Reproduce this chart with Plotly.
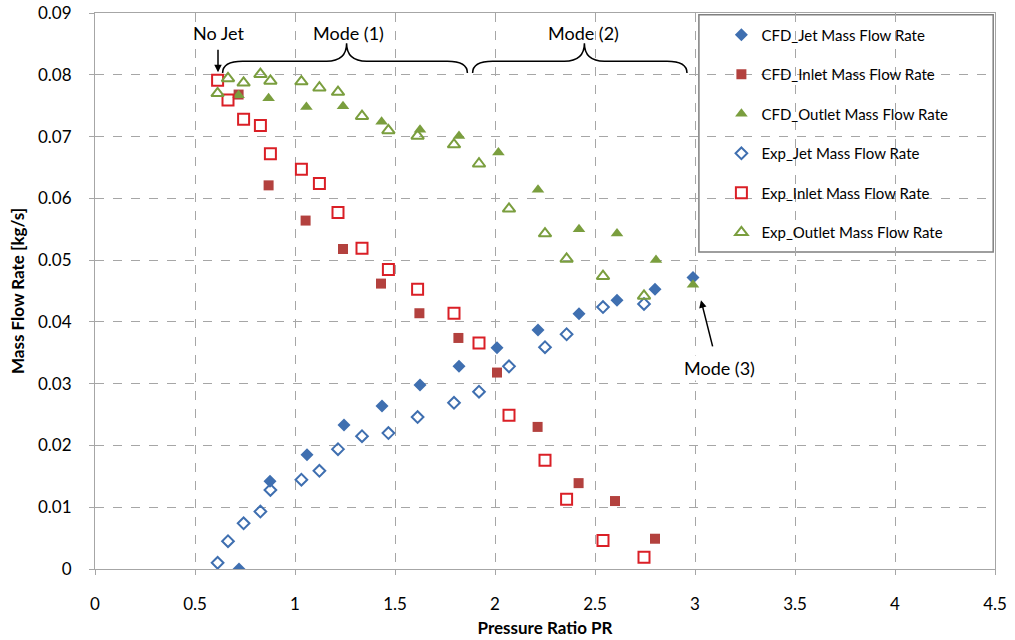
import plotly.graph_objects as go

# CFD results
cfd_jet_pr = [0.72, 0.875, 1.06, 1.245, 1.435, 1.625, 1.82, 2.01, 2.215, 2.42, 2.61, 2.80, 2.99]
cfd_jet_m = [0.0, 0.0142, 0.0185, 0.0233, 0.0264, 0.0298, 0.0328, 0.0358, 0.0387, 0.0413, 0.0435, 0.0453, 0.0472]

cfd_inlet_pr = [0.718, 0.868, 1.053, 1.24, 1.43, 1.622, 1.817, 2.01, 2.213, 2.418, 2.60, 2.80]
cfd_inlet_m = [0.0768, 0.0621, 0.0564, 0.0518, 0.0462, 0.0414, 0.0374, 0.0318, 0.0230, 0.0139, 0.0110, 0.0049]

cfd_outlet_pr = [0.718, 0.868, 1.057, 1.24, 1.433, 1.625, 1.82, 2.017, 2.215, 2.42, 2.61, 2.805, 2.99]
cfd_outlet_m = [0.0767, 0.0762, 0.0748, 0.0749, 0.0724, 0.0711, 0.0701, 0.0674, 0.0614, 0.0550, 0.0543, 0.0500, 0.0460]

# experimental results
exp_pr = [0.613, 0.665, 0.743, 0.827, 0.877, 1.032, 1.122, 1.215, 1.335, 1.467, 1.613, 1.795, 1.92]
exp_pr_hi = [2.07, 2.25, 2.358, 2.54, 2.745]
exp_jet_m = [0.0010, 0.0045, 0.0074, 0.0093, 0.0128, 0.01445, 0.0159, 0.0194, 0.0215, 0.0220, 0.0246, 0.0269, 0.0287,
             0.0328, 0.0359, 0.0380, 0.0424, 0.0429]
exp_inlet_m = [0.0791, 0.0759, 0.0728, 0.0718, 0.0672, 0.0647, 0.0624, 0.0577, 0.0519, 0.0485, 0.0453, 0.0414, 0.0366,
               0.0249, 0.0176, 0.0113, 0.0046, 0.0019]
exp_outlet_m = [0.0770, 0.0794, 0.0787, 0.0801, 0.0790, 0.0789, 0.0779, 0.0772, 0.0733, 0.0710, 0.0701, 0.0687, 0.0656,
                0.0583, 0.0543, 0.0502, 0.0474, 0.0442]

exp_all_pr = exp_pr + exp_pr_hi

FONT = "Lato"
BLUE = "#3F6FB0"
RED_F = "#B3413E"
GREEN = "#7A9E3E"
RED_O = "#DA1F26"

series = [
    ("CFD_Jet Mass Flow Rate", cfd_jet_pr, cfd_jet_m, dict(symbol="diamond", size=10, color=BLUE)),
    ("CFD_Inlet Mass Flow Rate", cfd_inlet_pr, cfd_inlet_m, dict(symbol="square", size=10, color=RED_F)),
    ("CFD_Outlet Mass Flow Rate", cfd_outlet_pr, cfd_outlet_m, dict(symbol="triangle-up", size=11, color=GREEN)),
    ("Exp_Jet Mass Flow Rate", exp_all_pr, exp_jet_m,
     dict(symbol="diamond-open", size=9, color=BLUE, line=dict(width=2, color=BLUE))),
    ("Exp_Inlet Mass Flow Rate", exp_all_pr, exp_inlet_m,
     dict(symbol="square-open", size=11, color=RED_O, line=dict(width=2, color=RED_O))),
    ("Exp_Outlet Mass Flow Rate", exp_all_pr, exp_outlet_m,
     dict(symbol="triangle-up-open", size=11, color=GREEN, line=dict(width=2, color=GREEN))),
]

fig = go.Figure()
for i, (name, xs, ys, mk) in enumerate(series):
    fig.add_trace(go.Scatter(x=xs, y=ys, mode="markers", name=name, marker=mk, legendgroup=str(i)))


def brace(x0, xm, x1, yt, yl, yp, d=0.1):
    return (f"M {x0},{yt} Q {x0},{yl} {x0 + d},{yl} L {xm - d},{yl} Q {xm},{yl} {xm},{yp} "
            f"Q {xm},{yl} {xm + d},{yl} L {x1 - d},{yl} Q {x1},{yl} {x1},{yt}")


shapes = [
    dict(type="path", xref="x", yref="y", path=brace(0.638, 1.258, 1.862, 0.0803, 0.0822, 0.0851),
         line=dict(color="black", width=1.5)),
    dict(type="path", xref="x", yref="y", path=brace(1.888, 2.447, 2.96, 0.0803, 0.0822, 0.0851),
         line=dict(color="black", width=1.5)),
    # legend box
    dict(type="rect", xref="paper", yref="paper", x0=0.671, x1=0.998, y0=0.570, y1=0.997,
         fillcolor="white", line=dict(color="#7F7F7F", width=1.5), layer="between"),
]

ann_font = dict(family=FONT, size=18, color="black")
annotations = [
    dict(x=0.615, y=0.0867, text="No Jet", showarrow=False, font=ann_font),
    dict(x=1.265, y=0.0867, text="Mode (1)", showarrow=False, font=ann_font),
    dict(x=2.44, y=0.0867, text="Mode (2)", showarrow=False, font=ann_font),
    dict(x=3.12, y=0.0325, text="Mode (3)", showarrow=False, font=ann_font, bgcolor="white"),
    dict(x=0.615, y=0.0804, ax=0.615, ay=0.0843, axref="x", ayref="y", text="", showarrow=True,
         arrowhead=2, arrowsize=1, arrowwidth=1.5, arrowcolor="black"),
    dict(x=3.03, y=0.0435, ax=3.09, ay=0.0358, axref="x", ayref="y", text="", showarrow=True,
         arrowhead=2, arrowsize=1, arrowwidth=1.5, arrowcolor="black"),
]

fig.update_layout(
    width=1015, height=640,
    margin=dict(l=95, r=20, t=13, b=71),
    plot_bgcolor="white", paper_bgcolor="white",
    font=dict(family=FONT, size=17, color="black"),
    shapes=shapes, annotations=annotations,
    legend=dict(x=0.696, y=0.99, xanchor="left", yanchor="top", bgcolor="rgba(0,0,0,0)",
                font=dict(family=FONT, size=15), tracegroupgap=17, itemwidth=30),
)
fig.update_xaxes(
    range=[0, 4.5], dtick=0.5, tick0=0, automargin=False, ticklabeloverflow="allow",
    showgrid=True, gridcolor="#A6A6A6", griddash="dash", gridwidth=1,
    showline=True, linecolor="#A6A6A6", linewidth=1, mirror=True,
    ticks="outside", ticklen=5, tickcolor="#A6A6A6", ticklabelstandoff=15,
    zeroline=False,
    title=dict(text="<b>Pressure Ratio PR</b>", font=dict(size=17), standoff=8),
)
fig.update_yaxes(
    range=[0, 0.09], dtick=0.01, tick0=0, automargin=False, ticklabeloverflow="allow",
    showgrid=True, gridcolor="#A6A6A6", griddash="dash", gridwidth=1,
    showline=True, linecolor="#A6A6A6", linewidth=1, mirror=True,
    ticks="outside", ticklen=5, tickcolor="#A6A6A6", ticklabelstandoff=14,
    zeroline=False,
    title=dict(text="<b>Mass Flow Rate [kg/s]</b>", font=dict(size=17), standoff=9),
)

# drop the default 8px body margin so the figure fills the window
fig.write_html("out.html", config={"displayModeBar": False},
               post_script="document.body.style.margin='0';")
